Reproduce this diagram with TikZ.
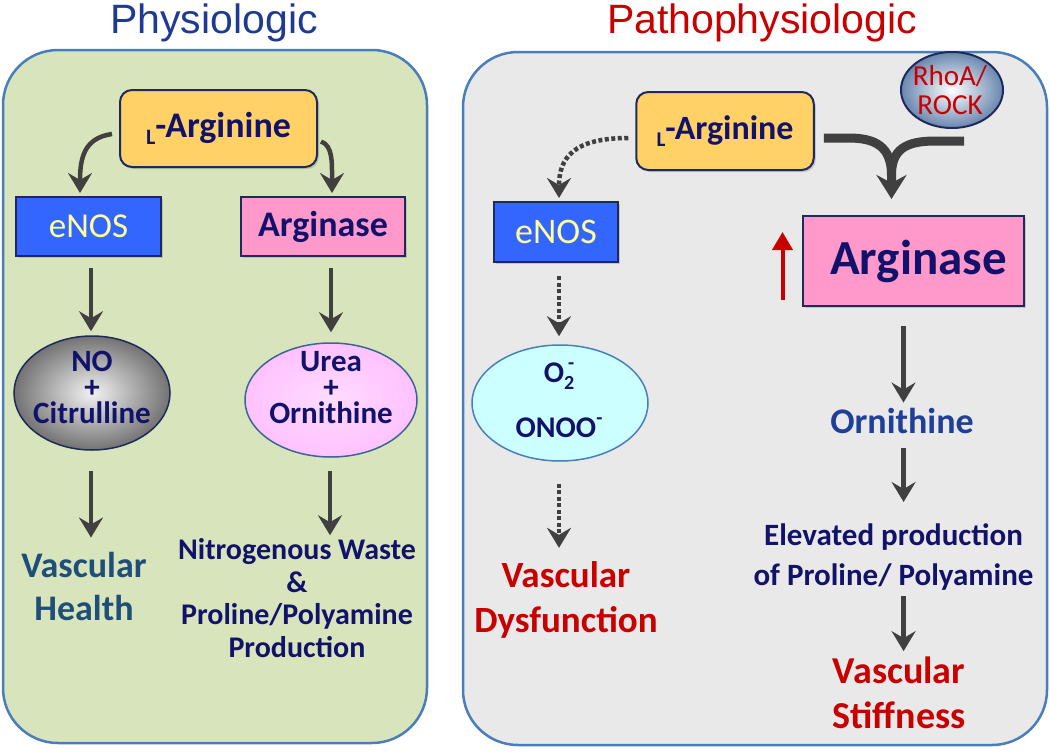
\documentclass[tikz,border=0pt]{standalone}
\usepackage{fontspec}
\setmainfont{Carlito}
\newfontfamily\arialf{Liberation Sans}
\usetikzlibrary{arrows.meta,shapes.geometric,shadows,calc}
\definecolor{navy}{HTML}{12126A}
\definecolor{panelblue}{HTML}{4A7EBB}
\definecolor{greenbg}{HTML}{D8E4BC}
\definecolor{graybg}{HTML}{E9E9E9}
\definecolor{argfill}{HTML}{FFD166}
\definecolor{enosfill}{HTML}{3366FF}
\definecolor{enostext}{HTML}{FFFF99}
\definecolor{pinkfill}{HTML}{FF99CC}
\definecolor{ureafill}{HTML}{FFCCFF}
\definecolor{cyanfill}{HTML}{CCFFFF}
\definecolor{arrowgray}{HTML}{404040}
\definecolor{darkred}{HTML}{C80000}
\definecolor{steel}{HTML}{1F4E79}
\definecolor{midblue}{HTML}{1F3F99}
\definecolor{titleblue}{HTML}{1F3A93}
\definecolor{boxline}{HTML}{1F2A5C}
\tikzset{
  panel/.style={draw=panelblue, line width=2.5pt, rounded corners=55pt},
  box/.style={rectangle, draw=boxline, line width=2pt, inner sep=0pt,
    drop shadow={opacity=0.35,shadow xshift=2pt,shadow yshift=-2pt}},
  ell/.style={ellipse, inner sep=0pt, line width=1.5pt},
  arr/.style={draw=arrowgray, line width=4.5pt, -{Stealth[length=20pt,width=24pt,inset=7pt]}},
  darr/.style={arr, dash pattern=on 4pt off 2.5pt},
  yarr/.style={draw=arrowgray, line width=9pt},
  txt/.style={anchor=base, align=center, inner sep=0pt, font=\bfseries},
}
\begin{document}
\begin{tikzpicture}[x=1pt,y=-1pt]
\useasboundingbox[fill=white] (0,0) rectangle (1050,753);
% panels
\draw[panel, fill=greenbg] (3,50) rectangle (427,743);
\draw[panel, fill=graybg] (463,52) rectangle (1047,745);
% titles
\node[anchor=base, inner sep=0pt, font=\arialf\fontsize{41}{41}\selectfont, text=titleblue] (t1) at (214,33) {Physiologic};
\node[anchor=base, inner sep=0pt, font=\arialf\fontsize{41}{41}\selectfont, text=darkred] (t2) at (762,33) {Pathophysiologic};
% ---------- left panel
\node[box, rounded corners=12pt, fill=argfill, minimum width=197pt, minimum height=77pt] (la1) at (218.5,128.5)
  {\fontsize{36}{36}\selectfont\bfseries\color{navy}\raisebox{-7pt}{\fontsize{22}{22}\selectfont L}-Arginine};
\node[box, fill=enosfill, minimum width=145pt, minimum height=59pt] (en1) at (88.5,226.5)
  {\fontsize{35}{35}\selectfont\color{enostext}eNOS};
\node[box, fill=pinkfill, minimum width=164pt, minimum height=59pt] (ar1) at (323,226.5)
  {\fontsize{36}{36}\selectfont\bfseries\color{navy}Arginase};
\node[ell, draw=boxline, inner color=gray!10, outer color=gray!90!black, minimum width=156pt, minimum height=114pt] (no) at (92,393) {};
\node[ell, draw=panelblue!80!black, inner color=ureafill!70, outer color=ureafill!95!magenta, minimum width=172pt, minimum height=114pt] (urea) at (331,400) {};
\node[txt, text=navy, font=\bfseries\fontsize{31}{26}\selectfont] (notx) at (92,423) {NO\\+\\Citrulline};
\node[txt, text=navy, font=\bfseries\fontsize{31}{26}\selectfont] (ureatx) at (331,423) {Urea\\+\\Ornithine};
\node[txt, text=steel, font=\bfseries\fontsize{36}{43}\selectfont] (vh) at (84,620) {Vascular\\Health};
\node[txt, text=navy, font=\bfseries\fontsize{30}{32.5}\selectfont] (nw) at (297,657) {Nitrogenous Waste\\\&\\Proline/Polyamine\\Production};
\draw[arr] ($(la1.west)+(-7,5.5)$) .. controls +(-28,4) and +(0,-35) .. ($(en1.north)+(-8.5,-3)$);
\draw[arr] ($(la1.east)+(3,13)$) .. controls +(12,4) and +(0,-30) .. ($(ar1.north)+(9,-3)$);
\draw[arr] ($(en1.south)+(2.5,11)$) -- ($(no.north)+(-1,-4)$);
\draw[arr] ($(ar1.south)+(8,11)$) -- ($(urea.north)+(0,-10)$);
\draw[arr] ($(no.south)+(-1,20)$) -- ($(no.south |- vh.north)+(-1,-14)$);
\draw[arr] ($(urea.south)+(-1,13)$) -- ($(urea.south |- nw.north)+(-1,-3)$);
% ---------- right panel
\node[box, rounded corners=12pt, fill=argfill, minimum width=177.5pt, minimum height=78pt] (la2) at (725,131)
  {\fontsize{34}{34}\selectfont\bfseries\color{navy}\raisebox{-7pt}{\fontsize{21}{21}\selectfont L}-Arginine};
\node[ell, draw=boxline, line width=2pt, inner color=white, outer color={rgb,255:red,105;green,135;blue,175}, minimum width=102pt, minimum height=76pt] (rho) at (952,90) {};
\node[anchor=base, align=center, inner sep=0pt, text=darkred, font=\fontsize{29}{29}\selectfont] (rhotx) at (950,114) {RhoA/\\ROCK};
\node[box, fill=enosfill, minimum width=124pt, minimum height=60pt] (en2) at (556,232)
  {\fontsize{36}{36}\selectfont\color{enostext}eNOS};
\node[box, fill=pinkfill, minimum width=221pt, minimum height=90pt] (ar2) at (913.5,261)
  {\hspace*{10pt}\fontsize{49}{49}\selectfont\bfseries\color{navy}Arginase};
\node[ell, draw=panelblue, fill=cyanfill, minimum width=176pt, minimum height=116pt] (o2) at (560,403) {};
\node[txt, text=navy, font=\bfseries\fontsize{30}{55}\selectfont] (o2tx) at (559,437)
  {O{\fontsize{20}{20}\selectfont\raisebox{-7pt}{2}\llap{\raisebox{13pt}{-}}}\\ONOO{\fontsize{20}{20}\selectfont\raisebox{13pt}{-}}};
\node[txt, text=darkred, font=\bfseries\fontsize{37}{45}\selectfont] (vd) at (566,632) {Vascular\\Dysfunction};
\node[txt, text=midblue, font=\bfseries\fontsize{36}{36}\selectfont] (orn) at (902,433) {Ornithine};
\node[txt, text=navy, font=\bfseries\fontsize{31}{40}\selectfont] (ep) at (893.5,585) {Elevated production\\of Proline/ Polyamine};
\node[txt, text=darkred, font=\bfseries\fontsize{38}{45}\selectfont] (vs) at (899,728) {Vascular\\Stiffness};
% connectors right
\coordinate (mg) at ($(ar2.north)+(-22,-40)$);
\draw[yarr] ($(rho.south)+(12,12)$) -- ++(-29,0) .. controls +(-30,0) and +(0,-25) .. (mg);
\draw[yarr, -{Stealth[length=24pt,width=30pt,inset=8pt]}] ($(la2.east)+(9,7)$) -- ++(25,0) .. controls +(27,0) and +(0,-28) .. (mg) -- ($(ar2.north)+(-22,-16)$);
\draw[darr] ($(la2.west)+(-7,7)$) .. controls +(-55,0) and +(0,-40) .. ($(en2.north)+(3,-3)$);
\draw[darr] ($(en2.south)+(3,13)$) -- ($(o2.north)+(-1,-8)$);
\draw[darr] ($(o2.south)+(-1,22)$) -- ($(o2.south |- vd.north)+(-1,-13)$);
\draw[arr] ($(ar2.south)+(-10,19)$) -- ($(ar2.south |- orn.north)+(-10,-5)$);
\draw[arr] ($(orn.south)+(1.6,15)$) -- ($(orn.south |- ep.north)+(1.6,-21)$);
\draw[arr] ($(orn.south |- ep.south)+(1.6,6)$) -- ($(orn.south |- vs.north)+(1.6,-5)$);
\draw[draw=darkred, line width=4pt, -{Triangle[length=18pt,width=20pt]}] ($(ar2.west)+(-19.5,39)$) -- ($(ar2.west)+(-19.5,-29)$);
\end{tikzpicture}
\end{document}
